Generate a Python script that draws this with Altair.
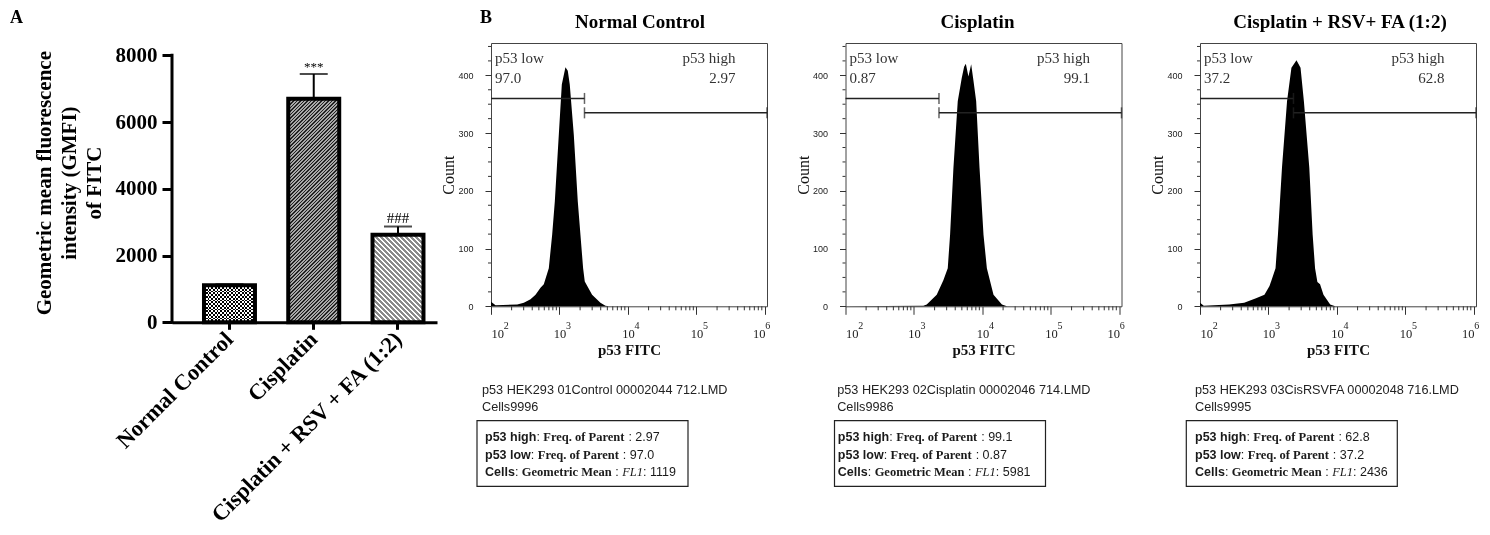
import altair as alt
import numpy as np
import pandas as pd

SERIF = "Liberation Serif"
SANS = "Liberation Sans"

# ---------------- Panel A : bar chart ----------------
categories = ["Normal Control", "Cisplatin", "Cisplatin + RSV + FA (1:2)"]
gmfi_mean = [1110, 6700, 2620]
gmfi_upper = [1140, 7440, 2870]
sig_labels = ["", "***", "###"]
yA_ticks = [0, 2000, 4000, 6000, 8000]
yA_title = ["Geometric mean fluorescence", "intensity (GMFI)", "of FITC"]

# ---------------- Panel B : flow cytometry histograms ----------------
panel_titles = ["Normal Control", "Cisplatin", "Cisplatin + RSV+ FA (1:2)"]
file_names = ["p53 HEK293 01Control 00002044 712.LMD",
              "p53 HEK293 02Cisplatin 00002046 714.LMD",
              "p53 HEK293 03CisRSVFA 00002048 716.LMD"]
cell_counts = ["Cells9996", "Cells9986", "Cells9995"]
freq_high = ["2.97", "99.1", "62.8"]
freq_low = ["97.0", "0.87", "37.2"]
geo_mean = ["1119", "5981", "2436"]

# x = log10(p53 FITC), y = count
nc_log = [2.0, 2.067, 2.383, 2.48, 2.577, 2.65, 2.723, 2.771, 2.844, 2.893, 2.932, 2.99,
          3.034, 3.087, 3.121, 3.15, 3.209, 3.267, 3.306, 3.345, 3.369, 3.476, 3.598,
          3.671, 3.719, 6.03]
nc_count = [8, 2, 3, 6, 12, 20, 32, 38, 66, 124, 182, 297, 384, 414, 408, 384, 297, 182,
            124, 66, 43, 20, 6, 1, 0, 0]
cis_log = [2.0, 3.137, 3.186, 3.332, 3.429, 3.493, 3.527, 3.576, 3.639, 3.698, 3.732,
           3.757, 3.795, 3.835, 3.869, 3.908, 3.957, 4.015, 4.064, 4.161, 4.284, 4.357, 6.03]
cis_count = [0, 1, 3, 20, 45, 66, 124, 240, 355, 396, 415, 420, 398, 419, 390, 355, 240,
             124, 66, 20, 3, 0, 0]
crf_log = [2.0, 2.055, 2.424, 2.645, 2.818, 2.941, 3.015, 3.103, 3.138, 3.197, 3.271,
           3.335, 3.409, 3.468, 3.517, 3.596, 3.645, 3.68, 3.714, 3.753, 3.803, 3.901,
           3.975, 6.03]
crf_count = [6, 1, 3, 6, 14, 20, 35, 66, 124, 240, 355, 413, 426, 413, 355, 240, 124, 66,
             42, 38, 20, 3, 0, 0]
hist_logs = [nc_log, cis_log, crf_log]
hist_counts = [nc_count, cis_count, crf_count]

gate_split = 3.365
gate_low_y = 360
gate_high_y = 335
x_min, x_max = 2.0, 6.03
y_max_b = 456
x_major = [2, 3, 4, 5, 6]
y_major = [0, 100, 200, 300, 400]

# ---------------- layout / style ----------------
A_W, A_H = 265, 279.3
A_AXIS_PX = 267.0
YMAX_A = 8000 * A_H / A_AXIS_PX
PI, PO, AL = 0.395, 0.27, 0.703
A_STEP = A_W / (3 - PI + 2 * PO)
A_BW = A_STEP * (1 - PI)
H_W, H_H = 276, 263.3

ONE = pd.DataFrame({"one": [1]})


def stripes(w, h, period, line_w, line_col, bg_col, mode):
    if mode in ("/", "\\"):
        L = w + h
    elif mode == "h":
        L = h
    else:
        L = w
    stops = []
    n = int(np.ceil(L / period))
    for i in range(n):
        a = round(i * period / L, 5)
        b = round(min((i * period + line_w) / L, 1.0), 5)
        c = round(min((i + 1) * period / L, 1.0), 5)
        stops += [alt.GradientStop(offset=a, color=line_col),
                  alt.GradientStop(offset=b, color=line_col),
                  alt.GradientStop(offset=b, color=bg_col),
                  alt.GradientStop(offset=c, color=bg_col)]
    if mode == "/":
        k = L / (w * w + h * h)
        return alt.LinearGradient(gradient="linear", stops=stops, x1=0, y1=0, x2=w * k, y2=h * k)
    if mode == "\\":
        k = L / (w * w + h * h)
        return alt.LinearGradient(gradient="linear", stops=stops, x1=0, y1=1, x2=w * k, y2=1 - h * k)
    if mode == "h":
        return alt.LinearGradient(gradient="linear", stops=stops, x1=0, y1=0, x2=0, y2=1)
    return alt.LinearGradient(gradient="linear", stops=stops, x1=0, y1=0, x2=1, y2=0)


def txt(text, x, y, size, font=SERIF, weight="normal", style="normal", align="left",
        color="#222", baseline="alphabetic"):
    return alt.Chart(ONE).mark_text(
        text=text, align=align, baseline=baseline, font=font, fontSize=size,
        fontWeight=weight, fontStyle=style, color=color
    ).encode(x=alt.value(x), y=alt.value(y))


# ---------------- Panel A ----------------
dfA = pd.DataFrame({"group": categories, "gmfi": gmfi_mean, "upper": gmfi_upper,
                    "sig": sig_labels})
xA_scale = alt.Scale(domain=categories, paddingInner=PI, paddingOuter=PO, align=AL)
yA_scale = alt.Scale(domain=[0, YMAX_A], nice=False, zero=True)
xA_main = alt.X("group:N", scale=xA_scale, axis=alt.Axis(
    title=None, labelAngle=-45, labelAlign="right", labelBaseline="middle",
    labelFont=SERIF, labelFontSize=22.5, labelFontWeight="bold", labelColor="black",
    labelPadding=6, labelLimit=400, tickSize=7, tickWidth=3, tickColor="black",
    domainWidth=3, domainColor="black"))
xA = alt.X("group:N", scale=xA_scale)
yA_main = alt.Y("gmfi:Q", scale=yA_scale, axis=alt.Axis(
    values=yA_ticks, format="d", domain=False, tickSize=10, tickWidth=3, tickColor="black",
    labelFont=SERIF, labelFontSize=21, labelFontWeight="bold", labelColor="black",
    labelPadding=5, title=yA_title, titleFont=SERIF, titleFontSize=21,
    titleFontWeight="bold", titleLineHeight=25, titlePadding=11, titleColor="black"))
yA = alt.Y("gmfi:Q", scale=yA_scale)
yA_up = alt.Y("upper:Q", scale=yA_scale)

bar_px_h = [m * A_H / YMAX_A for m in gmfi_mean]
fill_specs = [
    stripes(A_BW, bar_px_h[0], 3.6, 1.8, "black", "white", "h"),
    stripes(A_BW, bar_px_h[1], 3.5, 1.2, "#222222", "#a8a8a8", "/"),
    stripes(A_BW, bar_px_h[2], 5.0, 1.8, "#ffffff", "#8a8a8a", "\\"),
]
layersA = []
for i, c in enumerate(categories):
    layersA.append(
        alt.Chart(dfA).transform_filter(alt.datum.group == c)
        .mark_bar(fill=fill_specs[i], strokeWidth=0)
        .encode(x=xA_main if i == 0 else xA, y=yA_main if i == 0 else yA))
# checkerboard for the control bar (XOR of two stripe sets)
layersA.append(
    alt.Chart(dfA).transform_filter(alt.datum.group == categories[0])
    .mark_bar(fill=stripes(A_BW, bar_px_h[0], 3.6, 1.8, "white", "black", "v"),
              strokeWidth=0, blend="difference")
    .encode(x=xA, y=yA))
layersA.append(alt.Chart(dfA).mark_bar(fillOpacity=0, stroke="black", strokeWidth=4)
               .encode(x=xA, y=yA))
layersA.append(alt.Chart(dfA).mark_rule(strokeWidth=2, color="black")
               .encode(x=xA, y=yA, y2="upper:Q"))
layersA.append(alt.Chart(dfA).mark_tick(thickness=2, size=28, color="black")
               .encode(x=xA, y=yA_up))
layersA.append(alt.Chart(dfA).transform_filter(alt.datum.sig == "***")
               .mark_text(font=SERIF, fontSize=13, baseline="alphabetic", dy=-3, color="black")
               .encode(x=xA, y=yA_up, text="sig:N"))
layersA.append(alt.Chart(dfA).transform_filter(alt.datum.sig == "###")
               .mark_text(font=SERIF, fontSize=15, baseline="alphabetic", dy=-4, color="black")
               .encode(x=xA, y=yA_up, text="sig:N"))
layersA.append(alt.Chart(ONE).mark_rule(strokeWidth=3, color="black", strokeCap="square")
               .encode(x=alt.value(0), y=alt.datum(0), y2=alt.datum(8000)))
layersA.append(txt("A", -162, -19.7, 18, SERIF, "bold", color="black"))

panelA = alt.layer(*layersA).properties(width=A_W, height=A_H,
                                         view=alt.ViewBackground(strokeWidth=0))

# ---------------- Panel B ----------------
W_SANS_B = {"p": 611, "5": 556, "3": 556, " ": 278, "h": 611, "i": 278, "g": 611, "l": 278,
            "o": 611, "w": 778, "C": 722, "e": 556, "s": 556}
W_SANS = {":": 278, " ": 278, ".": 278, **{d: 556 for d in "0123456789"}}
W_SERIF_B = {"F": 611, "r": 444, "e": 444, "q": 556, ".": 250, " ": 250, "o": 500, "f": 333,
             "P": 611, "a": 500, "n": 556, "t": 333, "G": 778, "m": 833, "i": 278, "c": 444,
             "M": 944}
W_SERIF_I = {"F": 611, "L": 556, "1": 500, " ": 250}
FONTS = {"sb": (SANS, "bold", "normal", W_SANS_B), "s": (SANS, "normal", "normal", W_SANS),
         "tb": (SERIF, "bold", "normal", W_SERIF_B), "ti": (SERIF, "normal", "italic", W_SERIF_I)}


def rich_line(segments, x0, y, size):
    out = []
    x = x0
    for s, f in segments:
        font, weight, style, table = FONTS[f]
        stripped = s.lstrip(" ")
        x += (len(s) - len(stripped)) * table[" "] * size / 1000
        out.append(txt(stripped, x, y, size, font, weight, style, color="#1a1a1a"))
        x += sum(table[c] for c in stripped) * size / 1000
    return out


x_minor = [round(np.log10(k) + d, 5) for d in range(2, 6) for k in range(2, 10)]
y_minor = [v for v in range(0, 451, 25) if v % 100 != 0]
x_exponents = pd.DataFrame({"sx": x_major, "sup": [str(v) for v in x_major]})

title_x = [149, 132, 140]
top_text_x = [-9, -8.3, -5]
box_left = [-14, -11, -13.7]
box_text_x = [-6, -7.7, -5]
LBL_SIZE = 12.5
SUP_Y = H_H + 23


def hist_panel(i):
    df = pd.DataFrame({"fitc": hist_logs[i], "count": hist_counts[i]})
    xsc = alt.Scale(domain=[x_min, x_max], nice=False, zero=False)
    ysc = alt.Scale(domain=[0, y_max_b], nice=False, zero=False)
    x_main = alt.X("fitc:Q", scale=xsc, axis=alt.Axis(
        title="p53 FITC", values=x_major, labelExpr="'10'",
        tickSize=8, tickColor="#333", tickWidth=1, domain=False,
        labelFont=SERIF, labelFontSize=LBL_SIZE, labelColor="#222", labelPadding=13,
        labelFlush=5, labelOverlap=False,
        titleFont=SERIF, titleFontSize=15, titleFontWeight="bold", titleColor="#111",
        titlePadding=3))
    y_main = alt.Y("count:Q", scale=ysc, axis=alt.Axis(
        title="Count", values=y_major, tickSize=6, tickColor="#333", tickWidth=1,
        domain=False, labelFont=SANS, labelFontSize=9, labelColor="#222",
        labelPadding=12, labelOverlap=False,
        titleFont=SERIF, titleFontSize=16, titleFontWeight="normal", titleColor="#111",
        titlePadding=1))
    layers = [alt.Chart(df).mark_area(color="black", interpolate="linear")
              .encode(x=x_main, y=y_main)]
    # minor axis ticks
    layers.append(alt.Chart(pd.DataFrame({"mx": x_minor})).mark_rule(color="#333", strokeWidth=1)
                  .encode(x=alt.X("mx:Q", scale=xsc),
                          y=alt.value(H_H), y2=alt.value(H_H + 4)))
    layers.append(alt.Chart(pd.DataFrame({"my": y_minor})).mark_rule(color="#333", strokeWidth=1)
                  .encode(y=alt.Y("my:Q", scale=ysc),
                          x=alt.value(0), x2=alt.value(-3)))
    # exponents of the decade labels (10^n)
    half = 0.5 * LBL_SIZE
    for cond, dx in [(alt.datum.sx == x_major[0], 2 * half + 0.3),
                     ((alt.datum.sx > x_major[0]) & (alt.datum.sx < x_major[-1]), half + 0.3),
                     (alt.datum.sx == x_major[-1], 0.3)]:
        layers.append(alt.Chart(x_exponents).transform_filter(cond)
                      .mark_text(font=SERIF, fontSize=10, align="left", baseline="alphabetic",
                                 dx=dx, color="#222")
                      .encode(x=alt.X("sx:Q", scale=xsc), y=alt.value(SUP_Y), text="sup:N"))
    gates = pd.DataFrame({"gx1": [x_min, gate_split], "gx2": [gate_split, x_max],
                          "gy": [gate_low_y, gate_high_y]})
    layers.append(alt.Chart(gates).mark_rule(color="#222", strokeWidth=1.5).encode(
        x=alt.X("gx1:Q", scale=xsc), x2="gx2:Q", y=alt.Y("gy:Q", scale=ysc)))
    ends = pd.DataFrame({"ex": [gate_split, gate_split, x_max],
                         "ey": [gate_low_y, gate_high_y, gate_high_y]})
    layers.append(alt.Chart(ends).mark_tick(orient="vertical", size=11, thickness=1.5,
                                            color="#222").encode(
        x=alt.X("ex:Q", scale=xsc), y=alt.Y("ey:Q", scale=ysc)))
    layers += [
        txt("p53 low", 4, 20, 15, color="#333"),
        txt(freq_low[i], 4, 40, 15, color="#333"),
        txt("p53 high", 244.5, 20, 15, align="right", color="#333"),
        txt(freq_high[i], 244.5, 40, 15, align="right", color="#333"),
        txt(panel_titles[i], title_x[i], -14.7, 19, SERIF, "bold", align="center", color="black"),
        txt(file_names[i], top_text_x[i], 350.8, 12.7, SANS, color="#222"),
        txt(cell_counts[i], top_text_x[i], 367.6, 12.7, SANS, color="#222"),
    ]
    if i == 0:
        layers.append(txt("B", -11, -19.7, 18, SERIF, "bold", color="black"))
    layers.append(alt.Chart(ONE).mark_rect(fillOpacity=0, stroke="#222", strokeWidth=1.2)
                  .encode(x=alt.value(box_left[i]), x2=alt.value(box_left[i] + 211),
                          y=alt.value(377.6), y2=alt.value(443.3)))
    lines = [
        [("p53 high", "sb"), (": ", "s"), ("Freq. of Parent", "tb"), (" : " + freq_high[i], "s")],
        [("p53 low", "sb"), (": ", "s"), ("Freq. of Parent", "tb"), (" : " + freq_low[i], "s")],
        [("Cells", "sb"), (": ", "s"), ("Geometric Mean", "tb"), (" : ", "s"), ("FL1", "ti"),
         (": " + geo_mean[i], "s")],
    ]
    for ln, yb in zip(lines, [398.3, 415.6, 432.6]):
        layers += rich_line(ln, box_text_x[i], yb, 12.5)
    return alt.layer(*layers).properties(
        width=H_W, height=H_H, view=alt.ViewBackground(stroke="#444", strokeWidth=1))


hists = alt.hconcat(*[hist_panel(i) for i in range(3)], spacing=78.5, bounds="flush")
chart = alt.hconcat(panelA, hists, spacing=54, bounds="flush").properties(
    padding={"left": 2, "top": 0, "right": 0, "bottom": 0},
    background="white",
).configure_view(strokeWidth=0).configure_axis(grid=False)

chart.save("out.html", embed_options={"renderer": "svg", "actions": False})
